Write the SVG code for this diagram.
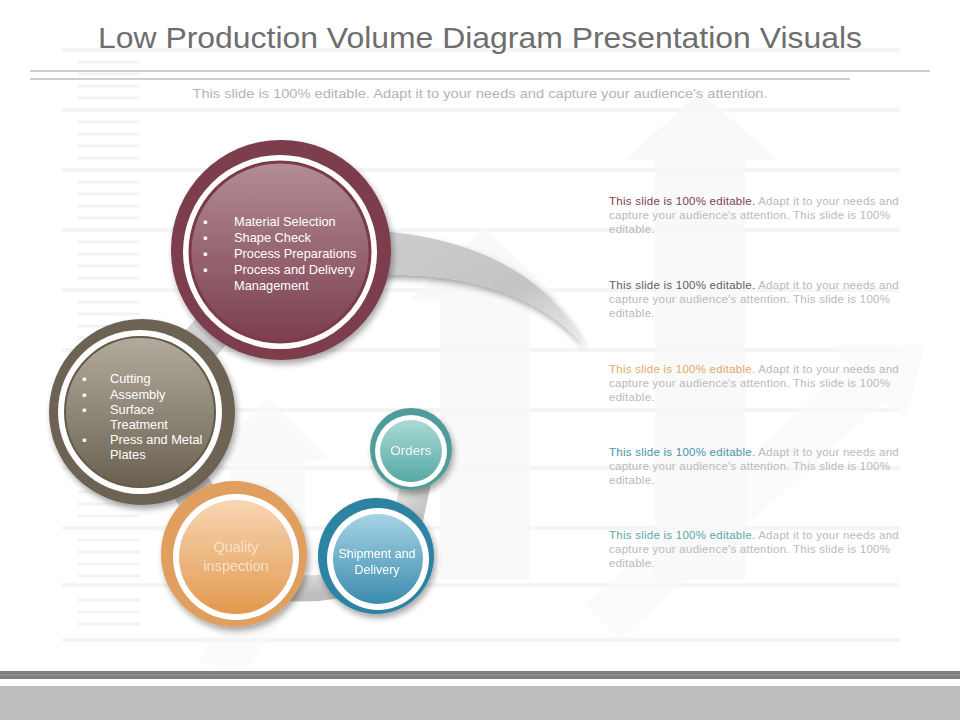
<svg xmlns="http://www.w3.org/2000/svg" width="960" height="720" viewBox="0 0 960 720">
<defs>
<style>
.t{font-family:"Liberation Sans",Arial,sans-serif}
.bul{font-family:"Liberation Sans",Arial,sans-serif;font-size:12.8px;fill:#ffffff}
.desc{font-family:"Liberation Sans",Arial,sans-serif;font-size:11.5px;letter-spacing:0.25px;fill:#b9b9b9}
.bg{stroke:#f5f5f5;stroke-width:4;fill:none}
.bgs{stroke:#f3f3f3;stroke-width:3;fill:none}
.arr{fill:#f8f8f8}
.conn{stroke:url(#gConn);fill:none}
</style>
<linearGradient id="gMar" x1="0" y1="0" x2="0" y2="1"><stop offset="0" stop-color="#b38d97"/><stop offset="1" stop-color="#7b3e4e"/></linearGradient>
<linearGradient id="gBrn" x1="0" y1="0" x2="0" y2="1"><stop offset="0" stop-color="#b3ab9d"/><stop offset="1" stop-color="#6a6152"/></linearGradient>
<linearGradient id="gOrg" x1="0" y1="0" x2="0" y2="1"><stop offset="0" stop-color="#f7d6b3"/><stop offset="1" stop-color="#e2994f"/></linearGradient>
<linearGradient id="gBlu" x1="0" y1="0" x2="0" y2="1"><stop offset="0" stop-color="#a6d3e4"/><stop offset="1" stop-color="#3a8caf"/></linearGradient>
<linearGradient id="gTea" x1="0" y1="0" x2="0" y2="1"><stop offset="0" stop-color="#acdad6"/><stop offset="1" stop-color="#55a9a4"/></linearGradient>
<linearGradient id="gConn" x1="0" y1="0" x2="1" y2="1"><stop offset="0" stop-color="#e6e6e6"/><stop offset="1" stop-color="#bdbdbd"/></linearGradient>
<linearGradient id="gSw" x1="0" y1="0" x2="1" y2="1"><stop offset="0" stop-color="#cdcdcd"/><stop offset="0.6" stop-color="#c4c4c4"/><stop offset="1" stop-color="#eeeeee"/></linearGradient>
<filter id="sh" x="-20%" y="-20%" width="140%" height="140%"><feGaussianBlur in="SourceAlpha" stdDeviation="3"/><feOffset dx="2" dy="4"/><feComponentTransfer><feFuncA type="linear" slope="0.35"/></feComponentTransfer><feMerge><feMergeNode/><feMergeNode in="SourceGraphic"/></feMerge></filter>
</defs>
<rect width="960" height="720" fill="#ffffff"/>
<g id="background">
<path class="bg" d="M62 50H900M62 110H900M62 170H900M62 230H900M62 290H900M62 350H900M62 410H900M62 468H900M62 528H900M62 585H900M62 640H900"/>
<path class="bgs" d="M78 62H140M78 74H140M78 86H140M78 98H140M78 122H140M78 134H140M78 146H140M78 158H140M78 182H140M78 194H140M78 206H140M78 218H140M78 242H140M78 254H140M78 266H140M78 278H140M78 302H140M78 314H140M78 326H140M78 338H140M78 480H140M78 492H140M78 504H140M78 516H140M78 540H140M78 552H140M78 564H140M78 576H140M78 600H140M78 612H140M78 624H140"/>
<path class="arr" d="M700 92L778 160H745V580H655V160H625Z" opacity="0.8"/>
<path class="arr" d="M485 228L560 300H530V580H440V300H410Z" opacity="0.8"/>
<path class="arr" d="M268 398L330 460H305V580H230V460H205Z" opacity="0.7"/>
<path class="arr" d="M925 345L905 420L885 400L620 640L585 605L850 365L830 345Z" opacity="0.6"/>
<path class="arr" d="M320 560L260 560L200 660L240 680Z" opacity="0.5"/>
</g>
<g id="header">
<text class="t" x="480" y="48" font-size="30" fill="#6e6e6e" text-anchor="middle" textLength="764" lengthAdjust="spacingAndGlyphs">Low Production Volume Diagram Presentation Visuals</text>
<line x1="30" y1="71" x2="930" y2="71" stroke="#9e9e9e" stroke-width="1"/>
<line x1="30" y1="79" x2="850" y2="79" stroke="#9e9e9e" stroke-width="1"/>
<text class="t" x="480" y="98" font-size="13.5" fill="#b4b4b4" text-anchor="middle" textLength="575" lengthAdjust="spacingAndGlyphs">This slide is 100% editable. Adapt it to your needs and capture your audience's attention.</text>
</g>
<g id="connectors">
<line class="conn" x1="281" y1="250" x2="142" y2="412" stroke-width="40"/>
<line class="conn" x1="142" y1="412" x2="235" y2="555" stroke-width="40"/>
<path class="conn" d="M235 578Q305 600 376 576" stroke-width="26"/>
<line class="conn" x1="423" y1="449" x2="400" y2="557" stroke-width="30"/>
<path d="M379 231C455 236 545 265 584 345C545 302 480 272 379 275Z" fill="url(#gSw)" filter="url(#sh)"/>
</g>
<g id="node-material" filter="url(#sh)">
<circle cx="281" cy="250" r="110" fill="#7b3e4e"/>
<circle cx="280" cy="252" r="97" fill="#ffffff"/>
<circle cx="280" cy="252" r="90" fill="url(#gMar)" stroke="#7a3a4b" stroke-width="3"/>
</g>
<g id="node-material-text" class="bul">
<text x="203" y="226">▪</text><text x="234" y="226">Material Selection</text>
<text x="203" y="242">▪</text><text x="234" y="242">Shape Check</text>
<text x="203" y="258">▪</text><text x="234" y="258">Process Preparations</text>
<text x="203" y="274">▪</text><text x="234" y="274">Process and Delivery</text>
<text x="234" y="290">Management</text>
</g>
<g id="node-cutting" filter="url(#sh)">
<circle cx="142" cy="412" r="93" fill="#6c6454"/>
<circle cx="140" cy="412" r="82" fill="#ffffff"/>
<circle cx="140" cy="412" r="75" fill="url(#gBrn)" stroke="#635b4c" stroke-width="2"/>
</g>
<g id="node-cutting-text" class="bul">
<text x="82" y="383">▪</text><text x="110" y="383">Cutting</text>
<text x="82" y="399">▪</text><text x="110" y="399">Assembly</text>
<text x="82" y="414">▪</text><text x="110" y="414">Surface</text>
<text x="110" y="429">Treatment</text>
<text x="82" y="444">▪</text><text x="110" y="444">Press and Metal</text>
<text x="110" y="459">Plates</text>
</g>
<g id="node-quality" filter="url(#sh)">
<circle cx="234" cy="554" r="73" fill="#e09f5f"/>
<circle cx="236" cy="557" r="63" fill="#ffffff"/>
<circle cx="236" cy="557" r="57" fill="url(#gOrg)"/>
<text class="t" x="236" y="552" font-size="14.5" fill="#f8e2cb" text-anchor="middle">Quality</text>
<text class="t" x="236" y="571" font-size="14.5" fill="#f8e2cb" text-anchor="middle">inspection</text>
</g>
<g id="node-shipment" filter="url(#sh)">
<circle cx="376" cy="556" r="58" fill="#2f83a2"/>
<circle cx="378" cy="559" r="51" fill="#ffffff"/>
<circle cx="378" cy="559" r="45" fill="url(#gBlu)"/>
<text class="t" x="377" y="558" font-size="12.5" fill="#ffffff" text-anchor="middle">Shipment  and</text>
<text class="t" x="377" y="574" font-size="12.5" fill="#ffffff" text-anchor="middle">Delivery</text>
</g>
<g id="node-orders" filter="url(#sh)">
<circle cx="411" cy="449" r="41" fill="#4f9c9a"/>
<circle cx="411" cy="451" r="36" fill="#ffffff"/>
<circle cx="411" cy="451" r="31" fill="url(#gTea)"/>
<text class="t" x="411" y="455" font-size="13.5" fill="#f2f9f9" text-anchor="middle">Orders</text>
</g>
<g id="descriptions" class="desc">
<text x="609" y="205"><tspan fill="#7a4352">This slide is 100% editable.</tspan> Adapt it to your needs and</text>
<text x="609" y="219">capture your audience's attention. This slide is 100%</text>
<text x="609" y="233">editable.</text>
<text x="609" y="289"><tspan fill="#5e5e5e">This slide is 100% editable.</tspan> Adapt it to your needs and</text>
<text x="609" y="303">capture your audience's attention. This slide is 100%</text>
<text x="609" y="317">editable.</text>
<text x="609" y="373"><tspan fill="#e4a86c">This slide is 100% editable.</tspan> Adapt it to your needs and</text>
<text x="609" y="387">capture your audience's attention. This slide is 100%</text>
<text x="609" y="401">editable.</text>
<text x="609" y="456"><tspan fill="#4a93ad">This slide is 100% editable.</tspan> Adapt it to your needs and</text>
<text x="609" y="470">capture your audience's attention. This slide is 100%</text>
<text x="609" y="484">editable.</text>
<text x="609" y="539"><tspan fill="#5aa9a6">This slide is 100% editable.</tspan> Adapt it to your needs and</text>
<text x="609" y="553">capture your audience's attention. This slide is 100%</text>
<text x="609" y="567">editable.</text>
</g>
<g id="footer">
<rect x="0" y="671" width="960" height="8" fill="#7f7f7f"/>
<line x1="0" y1="675" x2="960" y2="675" stroke="#9a9a9a" stroke-width="1"/>
<rect x="0" y="686" width="960" height="34" fill="#bdbdbd"/>
</g>
</svg>
